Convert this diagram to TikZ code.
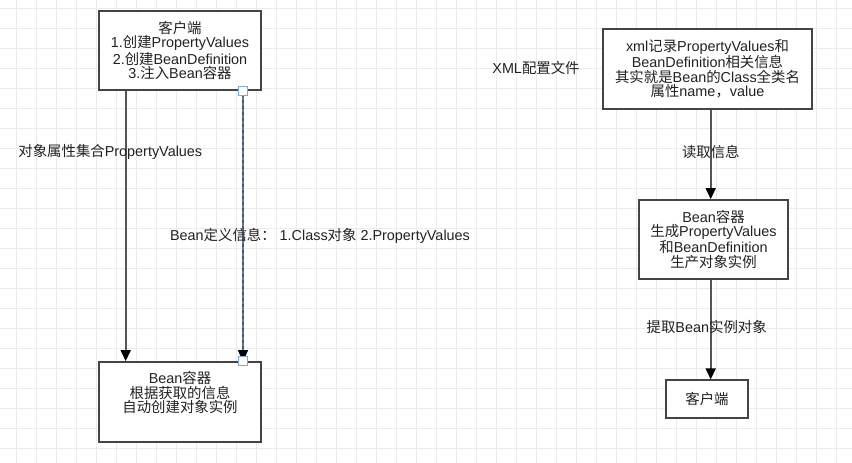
\documentclass[tikz,border=0pt]{standalone}
\usepackage{fontspec}
\setmainfont{Liberation Sans}
\newfontfamily\cjkfont{Noto Sans CJK SC}
\newfontfamily\latfont{Liberation Sans}
\XeTeXinterchartokenstate=1
\newXeTeXintercharclass\cjkcls
\newcount\cjkcc
\cjkcc="4E00
\loop \XeTeXcharclass\cjkcc=\cjkcls \ifnum\cjkcc<"9FFF \advance\cjkcc by 1 \repeat
\XeTeXcharclass"FF0C=\cjkcls
\XeTeXcharclass"FF1A=\cjkcls
\XeTeXcharclass"3001=\cjkcls
\XeTeXinterchartoks 0 \cjkcls={\cjkfont}
\XeTeXinterchartoks 4095 \cjkcls={\cjkfont}
\XeTeXinterchartoks \cjkcls 0={\latfont}
\XeTeXinterchartoks \cjkcls 4095={\latfont}
\usetikzlibrary{arrows.meta}
\definecolor{gridc}{HTML}{EBEBEB}
\definecolor{edgec}{HTML}{555555}
\definecolor{boxc}{HTML}{444444}
\definecolor{handc}{HTML}{7EA6F0}
\definecolor{seldc}{HTML}{4A7BD0}
\definecolor{txtc}{HTML}{222222}
\newcommand\txtfont{\fontsize{14.4}{14.6}\selectfont}
\begin{document}
\begin{tikzpicture}[x=1pt,y=-1pt,
  gridline/.style={draw=gridc, line width=1pt},
  box/.style={draw=boxc, line width=1.7pt, fill=white, inner sep=0pt, align=center, font=\txtfont, text=txtc},
  txt/.style={text=txtc, align=center, font=\txtfont, inner sep=0pt},
  arr/.style={draw=edgec, line width=1.6pt, -{Triangle[length=11pt,width=10pt,color=black]}},
  seldash/.style={draw=seldc, line width=1.6pt, dash pattern=on 3pt off 3pt},
  handle/.style={draw=handc, line width=1.4pt, fill=white, minimum size=9pt, inner sep=0pt}]
\useasboundingbox (0,0) rectangle (852,463);
\fill[white] (0,0) rectangle (852,463);
\foreach \x in {16,36,...,836} \draw[gridline] (\x,0) -- (\x,463);
\foreach \y in {8,28,...,448} \draw[gridline] (0,\y) -- (852,\y);

% boxes
\node[box, minimum width=162pt, minimum height=79pt] (c1) at (180,50.5)
  {客户端\\1.创建PropertyValues\\2.创建BeanDefinition\\3.注入Bean容器};
\node[box, minimum width=162pt, minimum height=80pt] (c2) at (180,402) {};
\node[txt] (c2t) at (180,392.5) {Bean容器\\根据获取的信息\\自动创建对象实例};
\node[box, minimum width=209pt, minimum height=80pt] (x1) at (707.5,69)
  {xml记录PropertyValues和\\BeanDefinition相关信息\\其实就是Bean的Class全类名\\属性name，value};
\node[box, minimum width=149pt, minimum height=79pt] (b1) at (713.5,239.5)
  {Bean容器\\生成PropertyValues\\和BeanDefinition\\生产对象实例};
\node[box, minimum width=82pt, minimum height=37.5pt] (k1) at (707,399) {客户端};

% connectors
\coordinate (lx) at (125.7,0);
\coordinate (rx) at (243,0);
\coordinate (ax) at (710.7,0);
\draw[arr] (c1.south -| lx) -- (c2.north -| lx);
\draw[arr] (c1.south -| rx) -- (c2.north -| rx);
\draw[seldash, shorten >=11pt] (c1.south -| rx) -- (c2.north -| rx);
\node[handle] (h1) at (c1.south -| rx) {};
\node[handle] (h2) at (c2.north -| rx) {};
\draw[arr] (x1.south -| ax) -- (b1.north -| ax);
\draw[arr] (b1.south -| ax) -- (k1.north -| ax);

% labels
\node[txt] (l1) at (110.3,151.7) {对象属性集合PropertyValues};
\node[txt] (l2) at (320,236) {Bean定义信息： 1.Class对象 2.PropertyValues};
\node[txt] (l3) at (536,68.3) {XML配置文件};
\node[txt] (l4) at (710.8,151.7) {读取信息};
\node[txt] (l5) at (706.7,326.7) {提取Bean实例对象};
\end{tikzpicture}
\end{document}
